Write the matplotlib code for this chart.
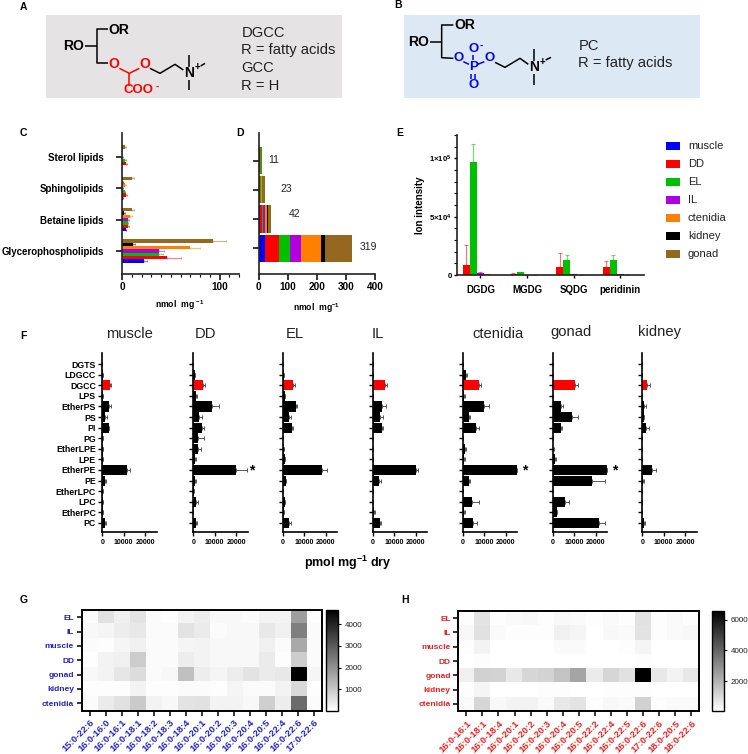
import numpy as np
import matplotlib
matplotlib.use("Agg")
import matplotlib.pyplot as plt
from matplotlib.colors import LinearSegmentedColormap, Normalize
from matplotlib.cm import ScalarMappable
from matplotlib.patches import Rectangle

plt.rcParams['font.family'] = ['Liberation Sans', 'DejaVu Sans']
plt.rcParams['mathtext.default'] = 'regular'

W, H = 748, 754

# 조직 이름과 색
tissues = ['muscle', 'DD', 'EL', 'IL', 'ctenidia', 'kidney', 'gonad']
tissue_colors = ['#0000ff', '#ff0000', '#00c000', '#b000e0', '#ff8000', '#000000', '#96681f']

# C, D: lipid class (아래에서 위 순서)
lipid_classes = ['Glycerophospholipids', 'Betaine lipids', 'Sphingolipids', 'Sterol lipids']
glycero_vals = [23, 46, 38, 38, 70, 11, 93]
glycero_errs = [2.5, 14.5, 4, 5, 10.5, 2.5, 14]
betaine_vals = [4, 6, 6, 6, 8, 2, 10]
betaine_errs = [0.6, 1, 0.6, 1.5, 2, 1.3, 2]
sphingo_vals = [1, 4, 3, 1, 3.5, 0.5, 10]
sphingo_errs = [0.2, 1, 0.5, 0.2, 1, 0.1, 2]
sterol_vals = [0.3, 3.7, 3, 0.5, 0.3, 0.2, 3]
sterol_errs = [0.1, 1.7, 1, 0.1, 0.2, 0.1, 1]
class_totals = [319, 42, 23, 11]

# E: ion intensity
ion_classes = ['DGDG', 'MGDG', 'SQDG', 'peridinin']
ion_muscle = [100, 50, 50, 50]
ion_dd = [9000, 500, 7000, 7000]
ion_el = [96500, 2500, 13000, 13000]
ion_il = [1500, 200, 800, 800]
ion_ctenidia = [500, 300, 200, 300]
ion_kidney = [100, 50, 50, 50]
ion_gonad = [100, 100, 100, 100]
ion_dd_err = [17000, 1500, 11500, 5000]
ion_el_err = [15500, 500, 4000, 4000]
ion_il_err = [1500, 100, 400, 400]
ion_ctenidia_err = [400, 100, 100, 100]

# F: 위에서 아래 순서
f_lipids = ['DGTS', 'LDGCC', 'DGCC', 'LPS', 'EtherPS', 'PS', 'PI', 'PG',
            'EtherLPE', 'LPE', 'EtherPE', 'PE', 'EtherLPC', 'LPC', 'EtherPC', 'PC']
muscle_vals = [0, 100, 3600, 100, 3300, 1500, 3000, 100, 100, 100, 11500, 1400, 100, 100, 100, 1300]
muscle_errs = [0, 50, 300, 50, 600, 800, 200, 50, 50, 50, 1700, 200, 50, 50, 50, 600]
dd_vals = [0, 800, 4400, 1100, 8700, 2700, 3900, 2400, 2200, 800, 19800, 900, 300, 1100, 0, 1100]
dd_errs = [0, 200, 900, 800, 3300, 1200, 1200, 2400, 1200, 600, 5400, 500, 200, 900, 0, 800]
el_vals = [0, 300, 4800, 900, 5900, 3000, 4000, 0, 300, 900, 18200, 1200, 0, 800, 300, 2600]
el_errs = [0, 200, 800, 200, 800, 700, 500, 0, 300, 200, 2200, 400, 0, 300, 300, 1100]
il_vals = [0, 0, 5800, 0, 4400, 3100, 4000, 0, 0, 0, 20000, 3000, 0, 0, 600, 3300]
il_errs = [0, 0, 700, 0, 1800, 1400, 500, 0, 0, 0, 1000, 600, 0, 0, 200, 600]
ctenidia_vals = [0, 1200, 7600, 700, 10000, 2600, 6200, 0, 800, 600, 25400, 2800, 0, 4400, 500, 4900]
ctenidia_errs = [0, 500, 700, 400, 2000, 800, 1100, 0, 400, 500, 0, 500, 0, 2900, 400, 1500]
gonad_vals = [0, 0, 10300, 100, 3600, 8700, 3600, 0, 200, 900, 25400, 18400, 0, 5800, 1700, 21400]
gonad_errs = [0, 0, 1200, 100, 900, 2800, 600, 0, 100, 300, 0, 6200, 0, 1500, 300, 2800]
kidney_vals = [0, 0, 2300, 0, 900, 700, 1900, 0, 0, 0, 4700, 300, 0, 0, 0, 900]
kidney_errs = [0, 0, 1100, 0, 600, 200, 1200, 0, 0, 0, 1500, 300, 0, 0, 0, 300]

# G, H: heatmap
heat_rows = ['EL', 'IL', 'muscle', 'DD', 'gonad', 'kidney', 'ctenidia']
g_columns = ['15:0-22:6', '16:0-16:0', '16:0-16:1', '16:0-18:1', '16:0-18:2', '16:0-18:3', '16:0-18:4',
             '16:0-20:1', '16:0-20:2', '16:0-20:3', '16:0-20:4', '16:0-20:5', '16:0-22:4', '16:0-22:6', '17:0-22:6']
g_el = [90, 560, 280, 510, 90, 50, 230, 330, 140, 140, 90, 230, 230, 1770, 50]
g_il = [140, 190, 330, 420, 90, 90, 510, 370, 90, 140, 140, 420, 280, 2330, 90]
g_muscle = [90, 50, 190, 280, 90, 90, 190, 230, 140, 140, 140, 280, 90, 1580, 90]
g_dd = [20, 230, 280, 930, 90, 90, 330, 230, 140, 140, 140, 370, 50, 930, 90]
g_gonad = [140, 230, 470, 650, 90, 140, 1160, 330, 190, 330, 510, 370, 420, 4650, 190]
g_kidney = [50, 50, 50, 230, 50, 50, 90, 90, 50, 190, 90, 90, 230, 700, 50]
g_ctenidia = [90, 370, 560, 980, 230, 140, 510, 560, 230, 230, 140, 880, 330, 2700, 90]

h_columns = ['16:0-16:1', '16:0-18:1', '16:0-18:4', '16:0-20:1', '16:0-20:2', '16:0-20:3', '16:0-20:4', '16:0-20:5',
             '16:0-22:2', '16:0-22:4', '16:0-22:5', '16:0-22:6', '17:0-22:6', '18:0-20:5', '18:0-22:6']
h_el = [110, 760, 110, 170, 240, 110, 240, 170, 110, 170, 110, 830, 110, 170, 110]
h_il = [240, 830, 170, 110, 110, 110, 440, 300, 50, 240, 170, 760, 110, 170, 240]
h_muscle = [110, 370, 50, 50, 50, 50, 170, 170, 50, 50, 110, 300, 50, 50, 50]
h_dd = [50, 110, 50, 50, 50, 50, 50, 50, 50, 50, 50, 110, 50, 50, 50]
h_gonad = [440, 1230, 1160, 630, 1100, 1160, 1560, 2350, 570, 1100, 830, 6600, 630, 370, 630]
h_kidney = [110, 300, 50, 50, 50, 110, 110, 50, 50, 110, 110, 110, 50, 50, 50]
h_ctenidia = [170, 1100, 240, 370, 370, 170, 630, 760, 110, 240, 170, 1230, 110, 170, 170]


def add_ax(x0, y0, x1, y1):
    # 픽셀 좌표(위쪽 원점)로 axes 생성
    return fig.add_axes([x0 / W, 1 - y1 / H, (x1 - x0) / W, (y1 - y0) / H])


def style_axes(ax, lw=1.2):
    for s in ['top', 'right']:
        ax.spines[s].set_visible(False)
    for s in ['left', 'bottom']:
        ax.spines[s].set_linewidth(lw)
        ax.spines[s].set_color('#222222')
    ax.patch.set_alpha(0)


fig = plt.figure(figsize=(W / 100, H / 100), dpi=100)

# C: grouped bar
ax_c = add_ax(122, 133, 239, 273.5)
class_vals = [glycero_vals, betaine_vals, sphingo_vals, sterol_vals]
class_errs = [glycero_errs, betaine_errs, sphingo_errs, sterol_errs]
step = 0.107
for j, (name, color) in enumerate(zip(tissues, tissue_colors)):
    vals = [v[j] for v in class_vals]
    errs = [e[j] for e in class_errs]
    pos = np.arange(4) + (j - 3) * step
    ax_c.barh(pos, vals, height=step * 1.02, color=color)
    ax_c.errorbar(vals, pos, xerr=[np.zeros(4), errs], fmt='none', ecolor=color, alpha=0.5,
                  elinewidth=0.8, capsize=1, capthick=0.6)
ax_c.set_xlim(0, 120)
ax_c.set_ylim(-0.72, 3.77)
ax_c.set_yticks(range(4), lipid_classes, fontsize=7, fontweight='bold')
ax_c.set_xticks([0, 100], ['0', '100'], fontsize=7.2, fontweight='bold')
ax_c.set_xticks(np.arange(0, 121, 10), minor=True)
ax_c.tick_params(axis='y', which='major', length=4, width=1.1, pad=9)
ax_c.tick_params(axis='x', which='major', length=4, width=1.1, pad=2)
ax_c.tick_params(axis='x', which='minor', length=2, width=0.8)
style_axes(ax_c)

# D: stacked bar
ax_d = add_ax(258.7, 133, 375.4, 273.5)
left = np.zeros(4)
for j, (name, color) in enumerate(zip(tissues, tissue_colors)):
    vals = np.array([v[j] for v in class_vals])
    ax_d.barh(range(4), vals, left=left, height=0.93, color=color)
    left = left + vals
ax_d.set_xlim(0, 400)
ax_d.set_ylim(-0.87, 3.95)
ax_d.set_yticks(range(4), [''] * 4)
ax_d.set_xticks([0, 100, 200, 300, 400], ['0', '100', '200', '300', '400'], fontsize=7.2, fontweight='bold')
ax_d.tick_params(axis='both', length=4, width=1.1, pad=2)
style_axes(ax_d)

# E: ion intensity
ax_e = add_ax(456.7, 135, 644, 275)
ion_series = [ion_muscle, ion_dd, ion_el, ion_il, ion_ctenidia, ion_kidney, ion_gonad]
ion_errs = [None, ion_dd_err, ion_el_err, ion_il_err, ion_ctenidia_err, None, None]
bar_w = 0.15
for j, color in enumerate(tissue_colors):
    pos = np.arange(4) + (j - 3) * bar_w
    ax_e.bar(pos, ion_series[j], width=bar_w, color=color)
    if ion_errs[j] is not None:
        ax_e.errorbar(pos, ion_series[j], yerr=[np.zeros(4), ion_errs[j]], fmt='none', ecolor=color,
                      alpha=0.55, elinewidth=0.8, capsize=1.2, capthick=0.8)
ax_e.set_xlim(-0.51, 3.51)
ax_e.set_ylim(0, 120000)
ax_e.set_xticks(range(4), ion_classes, fontsize=7, fontweight='bold')
ax_e.set_yticks([0, 50000, 100000], ['0', r'5×10$^{4}$', r'1×10$^{5}$'], fontsize=5.6, fontweight='bold')
ax_e.set_yticks(np.arange(0, 120001, 10000), minor=True)
ax_e.tick_params(axis='y', which='major', length=2.5, width=1, pad=1)
ax_e.tick_params(axis='y', which='minor', length=2, width=0.8)
ax_e.tick_params(axis='x', length=2, width=1, pad=5)
ax_e.set_ylabel('Ion intensity', fontsize=7, fontweight='bold', labelpad=3)
style_axes(ax_e)

# F: 조직별 지질 패널
f_panels = [('muscle', muscle_vals, muscle_errs, 102.3), ('DD', dd_vals, dd_errs, 193.3),
            ('EL', el_vals, el_errs, 283), ('IL', il_vals, il_errs, 373),
            ('ctenidia', ctenidia_vals, ctenidia_errs, 463), ('gonad', gonad_vals, gonad_errs, 553),
            ('kidney', kidney_vals, kidney_errs, 642.3)]
f_pos = np.arange(16)[::-1]
for i, (name, vals, errs, x0) in enumerate(f_panels):
    ax = add_ax(x0, 352.7, x0 + 54.4, 532.3)
    colors = ['#ff0000' if lipid == 'DGCC' else '#000000' for lipid in f_lipids]
    ax.barh(f_pos, vals, height=0.96, color=colors)
    ax.errorbar(vals, f_pos, xerr=[np.zeros(16), errs], fmt='none', ecolor='#555555',
                elinewidth=0.7, capsize=1.6, capthick=0.7)
    ax.set_xlim(0, 25500)
    ax.set_ylim(-0.88, 16.07)
    ax.set_xticks([0, 10000, 20000], ['0', '10000', '20000'], fontsize=5, fontweight='bold')
    if i == 0:
        ax.set_yticks(f_pos, f_lipids, fontsize=6.3, fontweight='bold')
    else:
        ax.set_yticks(f_pos, [''] * 16)
    ax.tick_params(axis='both', length=3.2, width=1, pad=1.5)
    style_axes(ax, 1.2)
    ax.spines['left'].set_color('black')
    ax.spines['bottom'].set_color('black')

# G, H: heatmap
grey_cmap = LinearSegmentedColormap.from_list('white_black', ['#ffffff', '#000000'])


def draw_heat(rows, columns, box, cbox, vmin, vmax, cticks, color):
    ax = add_ax(*box)
    ax.imshow(np.array(rows), cmap=grey_cmap, vmin=vmin, vmax=vmax, aspect='auto', interpolation='nearest')
    ax.set_yticks(range(7), heat_rows, fontsize=6, fontweight='bold', color=color)
    ax.set_xticks(range(15))
    ax.set_xticklabels(columns, fontsize=6.8, fontweight='bold', color=color, rotation=45,
                       ha='right', rotation_mode='anchor')
    ax.tick_params(axis='both', length=3.5, width=1.1, pad=2)
    ax.tick_params(axis='x', pad=2)
    for s in ax.spines.values():
        s.set_linewidth(1.4)
    cax = add_ax(*cbox)
    cb = fig.colorbar(ScalarMappable(Normalize(vmin, vmax), grey_cmap), cax=cax)
    cb.set_ticks(cticks)
    cb.ax.tick_params(labelsize=5.8, length=2.5, width=0.8, pad=2, labelcolor='#222222')
    cb.outline.set_linewidth(1)


draw_heat([g_el, g_il, g_muscle, g_dd, g_gonad, g_kidney, g_ctenidia], g_columns,
          (81.7, 610, 322, 710.5), (326, 610, 338.3, 711), 0, 4650, [1000, 2000, 3000, 4000], '#2222cc')
draw_heat([h_el, h_il, h_muscle, h_dd, h_gonad, h_kidney, h_ctenidia], h_columns,
          (458.3, 611, 699.3, 711), (711.7, 610.7, 724.3, 711), 40, 6600, [2000, 4000, 6000], '#f02020')

# 자유 텍스트, 구조식, 범례: 픽셀 좌표 오버레이
ov = fig.add_axes([0, 0, 1, 1], zorder=10)
ov.set_xlim(0, W)
ov.set_ylim(H, 0)
ov.axis('off')


def label(x, y, s, size=7, weight='normal', color='black', ha='center', va='center', rotation=0):
    ov.text(x, y, s, fontsize=size, fontweight=weight, color=color, ha=ha, va=va, rotation=rotation)


# 패널 문자
for letter, x, y in [('A', 23, 7), ('B', 398, 5), ('C', 23, 133), ('D', 240, 133), ('E', 400, 133),
                     ('F', 23, 336), ('G', 24, 600), ('H', 405, 600)]:
    label(x, y, letter, 7.5, 'bold')

# 구조식 A
ov.add_patch(Rectangle((46, 15), 296, 83, color='#e5e3e4', lw=0))
ox, oy = 40, 5


def bond(pts, ox, oy, color='black', lw=1.1):
    xs = [ox + p[0] / 3 for p in pts]
    ys = [oy + p[1] / 3 for p in pts]
    ov.plot(xs, ys, color=color, lw=lw, solid_capstyle='butt')


bond([(205, 72), (170, 72), (170, 175), (205, 175)], ox, oy)
bond([(135, 124), (170, 124)], ox, oy)
bond([(238, 190), (268, 205), (298, 190)], ox, oy, '#ff0000')
bond([(268, 205), (268, 243)], ox, oy, '#ff0000')
bond([(330, 190), (360, 205), (405, 178), (430, 195)], ox, oy)
bond([(447, 150), (447, 185)], ox, oy)
bond([(447, 225), (447, 255)], ox, oy)
bond([(482, 183), (495, 175)], ox, oy)
label(ox + 237 / 3, oy + 74 / 3, 'OR', 10, 'bold')
label(ox + 102 / 3, oy + 124 / 3, 'RO', 10, 'bold')
label(ox + 222 / 3, oy + 177 / 3, 'O', 10, 'bold', '#ff0000')
label(ox + 313 / 3, oy + 177 / 3, 'O', 10, 'bold', '#ff0000')
label(ox + 296 / 3, oy + 254 / 3, 'COO', 9.5, 'bold', '#ff0000')
label(ox + 353 / 3, oy + 245 / 3, '-', 7, 'bold', '#ff0000')
label(ox + 447 / 3, oy + 205 / 3, 'N', 10, 'bold')
label(ox + 473 / 3, oy + 186 / 3, '+', 7, 'bold')
for yy, s in [(85, 'DGCC'), (135, 'R = fatty acids'), (188, 'GCC'), (242, 'R = H')]:
    label(ox + 604 / 3, oy + yy / 3, s, 10.6, ha='left', color='#222222')

# 구조식 B
ov.add_patch(Rectangle((403.7, 15), 296, 83, color='#dde8f5', lw=0))
ox = 395
bond([(175, 60), (140, 60), (140, 158), (175, 160)], ox, oy)
bond([(105, 110), (140, 110)], ox, oy)
bond([(205, 170), (222, 178)], ox, oy, '#0000ff')
bond([(248, 178), (268, 170)], ox, oy, '#0000ff')
bond([(235, 150), (235, 166)], ox, oy, '#0000ff')
bond([(229, 208), (229, 222)], ox, oy, '#0000ff')
bond([(241, 208), (241, 222)], ox, oy, '#0000ff')
bond([(300, 172), (330, 187), (375, 160), (400, 178)], ox, oy)
bond([(417, 133), (417, 168)], ox, oy)
bond([(417, 207), (417, 240)], ox, oy)
bond([(452, 165), (468, 157)], ox, oy)
label(ox + 208 / 3, oy + 60 / 3, 'OR', 10, 'bold')
label(ox + 72 / 3, oy + 110 / 3, 'RO', 10, 'bold')
label(ox + 190 / 3, oy + 160 / 3, 'O', 9.5, 'bold', '#0000ff')
label(ox + 284 / 3, oy + 160 / 3, 'O', 9.5, 'bold', '#0000ff')
label(ox + 235 / 3, oy + 133 / 3, 'O', 9.5, 'bold', '#0000ff')
label(ox + 235 / 3, oy + 241 / 3, 'O', 9.5, 'bold', '#0000ff')
label(ox + 235 / 3, oy + 187 / 3, 'P', 9.5, 'bold', '#0000ff')
label(ox + 260 / 3, oy + 124 / 3, '-', 7, 'bold', '#0000ff')
label(ox + 417 / 3, oy + 187 / 3, 'N', 10, 'bold')
label(ox + 442 / 3, oy + 170 / 3, '+', 7, 'bold')
for yy, s in [(122, 'PC'), (175, 'R = fatty acids')]:
    label(ox + 550 / 3, oy + yy / 3, s, 10.6, ha='left', color='#222222')

# C, D 라벨
label(180, 305, r'nmol  mg $^{-1}$', 6.2, 'bold')
label(317, 308, r'nmol  mg$^{-1}$', 6.2, 'bold')
for total, x, y in zip(class_totals, [368, 295, 286, 274], [247, 214, 189, 160]):
    label(x, y, str(total), 7.5, color='#222222')

# 범례
for j, (name, color) in enumerate(zip(tissues, tissue_colors)):
    yy = 145.7 + j * 18
    ov.add_patch(Rectangle((665.7, yy - 4), 14.3, 8, color=color, lw=0))
    label(688, yy, name, 8, ha='left', color='#222222')

# F 제목, 별표, 라벨
for s, x, y in [('muscle', 129, 334), ('DD', 206, 334), ('EL', 295, 334), ('IL', 378, 334),
                ('ctenidia', 498, 334), ('gonad', 571, 332), ('kidney', 660, 332)]:
    label(x, y, s, 10.6, color='#222222')
for x in [252, 525, 615]:
    label(x, 470, '*', 10, 'bold')
label(348, 563, r'pmol mg$^{-1}$ dry', 9, 'bold')

fig.savefig('out.png', dpi=100)
